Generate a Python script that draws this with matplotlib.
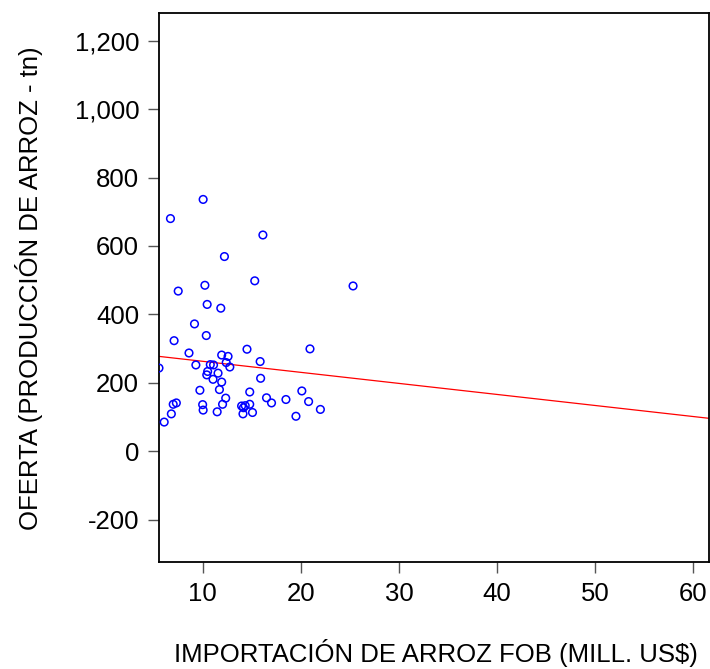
import numpy as np
import matplotlib
matplotlib.use("Agg")
import matplotlib.pyplot as plt
from matplotlib.ticker import FuncFormatter

plt.rcParams['font.family'] = ['Liberation Sans', 'DejaVu Sans']

# importacion de arroz FOB (mill. US$) y oferta (produccion de arroz - tn)
importacion = [10.05, 6.72, 16.14, 12.22, 15.31, 25.33, 10.23, 7.51, 10.46, 11.85,
               9.17, 10.37, 7.09, 14.52, 20.94, 8.61, 11.94, 12.59, 15.86, 12.40,
               9.31, 10.78, 11.11, 12.77, 5.55, 10.51, 10.42, 11.57, 11.06, 15.91,
               11.94, 9.72, 11.71, 14.80, 20.11, 12.35, 16.51, 18.49, 10.00, 12.03,
               14.80, 13.97, 14.34, 14.16, 7.00, 7.32, 17.02, 20.80, 10.05, 22.00,
               11.48, 15.08, 14.11, 6.81, 19.51, 6.08]
oferta = [736, 680, 632, 569, 498, 483, 485, 468, 429, 418,
          372, 338, 323, 298, 299, 287, 281, 277, 262, 259,
          252, 253, 252, 246, 243, 233, 223, 228, 210, 213,
          202, 178, 180, 173, 176, 155, 156, 151, 136, 137,
          137, 132, 133, 127, 137, 141, 141, 145, 120, 122,
          115, 113, 109, 109, 102, 85]

# recta de regresion
intercepto = 295.0
pendiente = -3.23

x_ticks = [10, 20, 30, 40, 50, 60]
y_ticks = [-200, 0, 200, 400, 600, 800, 1000, 1200]

fig = plt.figure(figsize=(7.1, 6.69), dpi=100)
ax = fig.add_axes([0.2235, 0.1595, 0.775, 0.8205])

ax.scatter(importacion, oferta, s=30, facecolors='none', edgecolors='blue',
           linewidths=1.1, zorder=3)

xmin, xmax = 5.52, 61.6
xs = np.array([xmin, xmax])
ax.plot(xs, intercepto + pendiente * xs, color='red', linewidth=0.9, zorder=2)

ax.set_xlim(xmin, xmax)
ax.set_ylim(-325, 1280)
ax.set_xticks(x_ticks)
ax.set_yticks(y_ticks)
ax.yaxis.set_major_formatter(FuncFormatter(lambda v, p: f"{int(v):,}"))

for s in ax.spines.values():
    s.set_linewidth(1.3)
    s.set_color('black')

ax.tick_params(axis='both', direction='out', length=8, width=1, color='#555555',
               labelsize=18.5, pad=6)

ax.set_xlabel("IMPORTACIÓN DE ARROZ FOB (MILL. US$)", fontsize=18.5)
ax.set_ylabel("OFERTA (PRODUCCIÓN DE ARROZ - tn)", fontsize=18.5)
ax.xaxis.set_label_coords(0.503, -0.139)
ax.yaxis.set_label_coords(-0.2095, 0.5)

fig.savefig("out.png", dpi=100)
